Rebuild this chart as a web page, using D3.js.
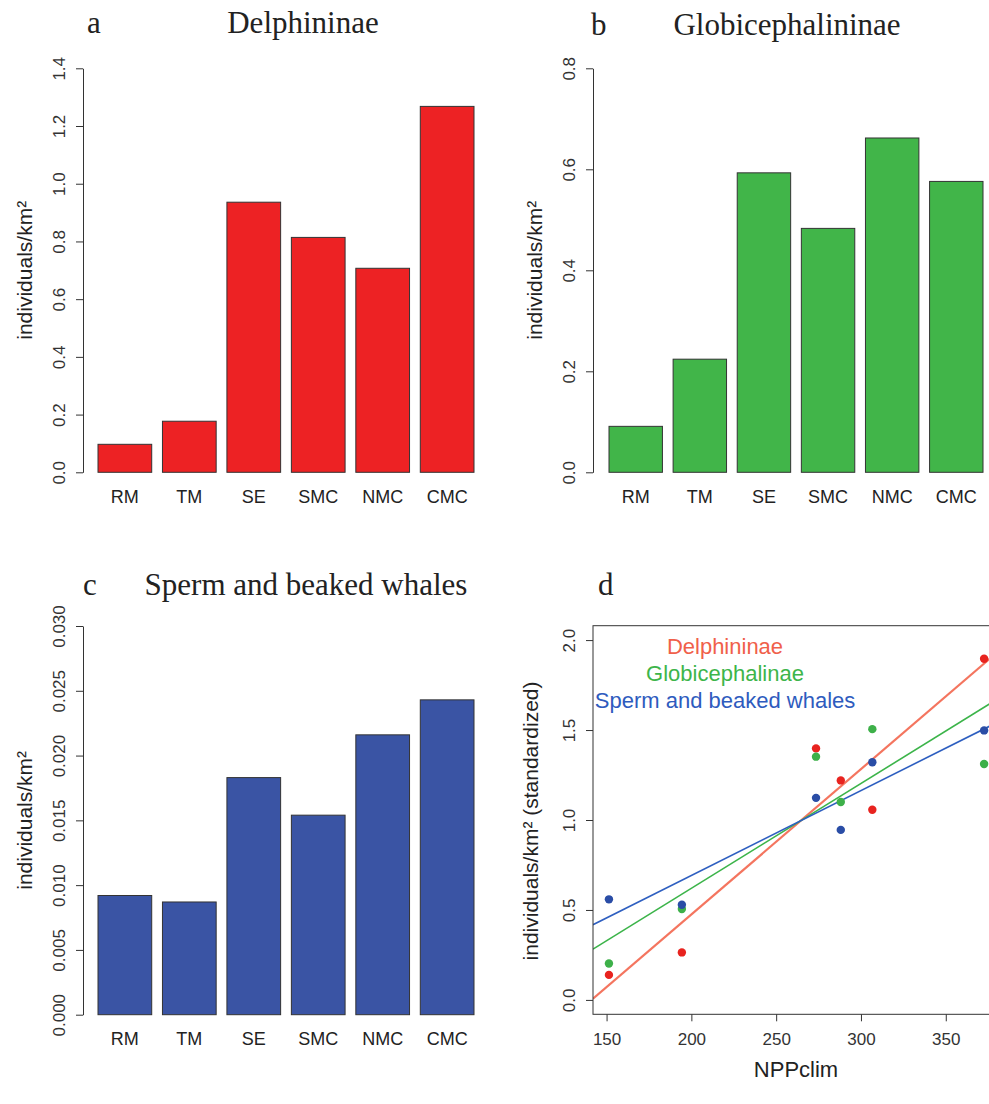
<!DOCTYPE html>
<html><head><meta charset="utf-8">
<script src="https://cdn.jsdelivr.net/npm/d3@7"></script>
<style>body{margin:0;background:#fff}svg{display:block}</style>
</head><body>
<svg id="chart" width="989" height="1104"></svg>
<script>
// ---- data ----
const categories = ["RM","TM","SE","SMC","NMC","CMC"];
const delphininae = [0.097,0.177,0.936,0.814,0.707,1.268];
const globicephalinae = [0.091,0.224,0.593,0.483,0.662,0.576];
const spermBeaked = [0.0092,0.0087,0.0183,0.0154,0.0216,0.0243];
const ticksA = [0,0.2,0.4,0.6,0.8,1.0,1.2,1.4];
const ticksB = [0,0.2,0.4,0.6,0.8];
const ticksC = [0,0.005,0.010,0.015,0.020,0.025,0.030];
const nppClim = [151.4,194.4,273.5,288.1,306.7,372.6];
const delphStd = [0.139,0.264,1.398,1.220,1.057,1.896];
const globiStd = [0.202,0.505,1.352,1.100,1.505,1.311];
const spermStd = [0.559,0.529,1.123,0.945,1.321,1.498];
const ticksDx = [150,200,250,300,350];
const ticksDy = [0,0.5,1.0,1.5,2.0];
const legendLabels = ["Delphininae","Globicephalinae","Sperm and beaked whales"];

const svg = d3.select("#chart");
const SANS = "'Liberation Sans', Arial, sans-serif";
const SERIF = "'Liberation Serif', 'Times New Roman', serif";
const AX = "#333";

function yAxisRotated(g, scale, ticks, fmt){
  g.call(d3.axisLeft(scale).tickValues(ticks).tickSize(7).tickSizeOuter(0).tickFormat(fmt));
  g.selectAll("line").attr("stroke", AX);
  g.select(".domain").attr("stroke", AX);
  g.selectAll("text").attr("x",0).attr("y",0).attr("dy",0)
    .attr("transform","translate(-18,0) rotate(-90)")
    .attr("text-anchor","middle").attr("font-family",SANS).attr("font-size",17).attr("fill",AX);
}

function barPanel(o){
  const y = d3.scaleLinear().domain([0, o.ticks[o.ticks.length-1]]).range([o.y0, o.y1]);
  const x = d3.scaleBand().domain(categories).range([o.x0, o.x1]).paddingInner(0.1667).paddingOuter(0);
  const g = svg.append("g");
  g.selectAll("rect").data(o.values).join("rect")
    .attr("x",(d,i)=>x(categories[i])).attr("width",x.bandwidth())
    .attr("y",d=>y(d)).attr("height",d=>y(0)-y(d))
    .attr("fill",o.color).attr("stroke","#333").attr("stroke-width",1);
  g.selectAll("text.cat").data(categories).join("text").attr("class","cat")
    .attr("x",d=>x(d)+x.bandwidth()/2).attr("y",o.labelY)
    .attr("text-anchor","middle").attr("font-family",SANS).attr("font-size",18).attr("fill","#222")
    .text(d=>d);
  const ga = svg.append("g").attr("transform",`translate(${o.axisX},0)`);
  yAxisRotated(ga, y, o.ticks, o.fmt);
  svg.append("text").attr("transform",`translate(${o.axisX-51},${(o.y0+o.y1)/2}) rotate(-90)`)
    .attr("text-anchor","middle").attr("font-family",SANS).attr("font-size",21).attr("fill","#222")
    .text("individuals/km²");
  svg.append("text").attr("x",o.letterX).attr("y",o.titleY).attr("font-family",SERIF).attr("font-size",31).attr("fill","#222").text(o.letter);
  svg.append("text").attr("x",o.titleX).attr("y",o.titleY).attr("text-anchor","middle").attr("font-family",SERIF).attr("font-size",31).attr("fill","#222").text(o.title);
}

barPanel({values:delphininae, ticks:ticksA, fmt:d3.format(".1f"), color:"#ED2224",
  y0:472.3, y1:68.3, x0:98, x1:474, axisX:83, labelY:503, letter:"a", letterX:87, title:"Delphininae", titleX:303, titleY:33});
barPanel({values:globicephalinae, ticks:ticksB, fmt:d3.format(".1f"), color:"#41B549",
  y0:472.3, y1:68.3, x0:609, x1:983, axisX:593, labelY:503, letter:"b", letterX:591, title:"Globicephalininae", titleX:787, titleY:35});
barPanel({values:spermBeaked, ticks:ticksC, fmt:d3.format(".3f"), color:"#3A54A4",
  y0:1014.7, y1:626, x0:98, x1:474, axisX:83, labelY:1045, letter:"c", letterX:83, title:"Sperm and beaked whales", titleX:306, titleY:595});

// ---- panel d ----
const boxL = 593, boxT = 625.7, boxB = 1014.3;
const xd = d3.scaleLinear().domain([142, 384]).range([boxL, boxL + 242*1.696]);
const yd = d3.scaleLinear().domain([-0.08, 2.08]).range([boxB, boxT]);
const boxR = xd(384);
svg.append("defs").append("clipPath").attr("id","clipD").append("rect")
  .attr("x",boxL).attr("y",boxT).attr("width",boxR-boxL).attr("height",boxB-boxT);

const series = [
  {vals:delphStd, pt:"#E8231F", line:"#F4755F", lw:2.2, txt:"#F0604A"},
  {vals:globiStd, pt:"#3DB049", line:"#3CB44A", lw:1.6, txt:"#3DB54A"},
  {vals:spermStd, pt:"#2A4DA6", line:"#2E5FC0", lw:1.6, txt:"#2E5BBE"}
];
const gd = svg.append("g").attr("clip-path","url(#clipD)");
series.forEach(s=>{
  const mx = d3.mean(nppClim), my = d3.mean(s.vals);
  const slope = d3.sum(nppClim,(x,i)=>(x-mx)*(s.vals[i]-my)) / d3.sum(nppClim,x=>(x-mx)*(x-mx));
  const b = my - slope*mx;
  const dom = xd.domain();
  gd.append("line").attr("x1",xd(dom[0])).attr("x2",xd(dom[1]))
    .attr("y1",yd(b+slope*dom[0])).attr("y2",yd(b+slope*dom[1]))
    .attr("stroke",s.line).attr("stroke-width",s.lw);
});
series.forEach(s=>{
  gd.selectAll(null).data(s.vals).join("circle")
    .attr("cx",(d,i)=>xd(nppClim[i])).attr("cy",d=>yd(d)).attr("r",4.2).attr("fill",s.pt);
});
svg.append("rect").attr("x",boxL).attr("y",boxT).attr("width",boxR-boxL).attr("height",boxB-boxT)
  .attr("fill","none").attr("stroke",AX).attr("stroke-width",1);

const gdy = svg.append("g").attr("transform",`translate(${boxL},0)`);
yAxisRotated(gdy, yd, ticksDy, d3.format(".1f"));
gdy.select(".domain").remove();
const gdx = svg.append("g").attr("transform",`translate(0,${boxB})`)
  .call(d3.axisBottom(xd).tickValues(ticksDx).tickSize(7).tickSizeOuter(0));
gdx.select(".domain").remove();
gdx.selectAll("line").attr("stroke",AX);
gdx.selectAll("text").attr("y",31).attr("dy",0).attr("font-family",SANS).attr("font-size",17).attr("fill",AX);

svg.append("text").attr("x",796).attr("y",1077).attr("text-anchor","middle")
  .attr("font-family",SANS).attr("font-size",22).attr("fill","#222").text("NPPclim");
svg.append("text").attr("transform",`translate(${boxL-55},821) rotate(-90)`).attr("text-anchor","middle")
  .attr("font-family",SANS).attr("font-size",21).attr("fill","#222").text("individuals/km² (standardized)");

legendLabels.forEach((t,i)=>{
  svg.append("text").attr("x",725).attr("y",654+i*27).attr("text-anchor","middle")
    .attr("font-family",SANS).attr("font-size",22).attr("fill",series[i].txt).text(t);
});
svg.append("text").attr("x",598).attr("y",595).attr("font-family",SERIF).attr("font-size",31).attr("fill","#222").text("d");
</script>
</body></html>
